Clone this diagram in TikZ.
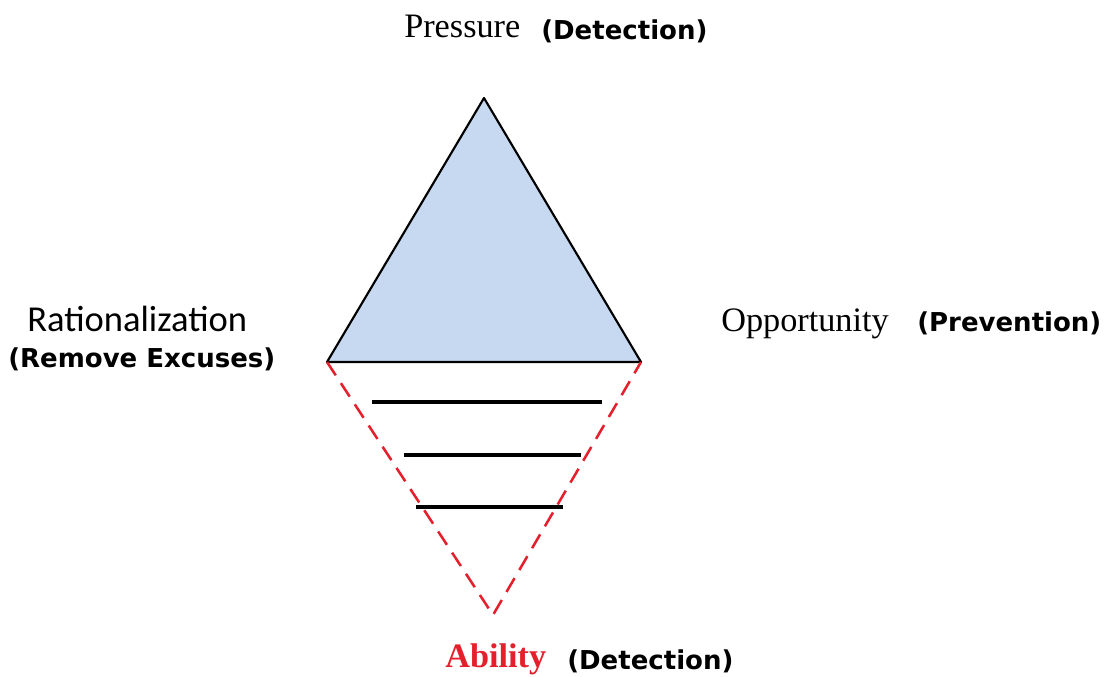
\documentclass[tikz,border=0pt]{standalone}
\usepackage{fontspec}
\setmainfont{Liberation Serif}
\newfontfamily\calib{Carlito}
\newfontfamily\verd{DejaVu Sans}
\definecolor{tri}{HTML}{C6D9F1}
\definecolor{dred}{HTML}{E4202C}
\tikzset{
  serif/.style={anchor=base west, inner sep=0pt, font=\fontsize{25.7}{30}\selectfont},
  cal/.style={anchor=base west, inner sep=0pt, font=\calib\fontsize{27.4}{32}\selectfont},
  par/.style={anchor=base west, inner sep=0pt, font=\verd\bfseries\fontsize{19.5}{23}\selectfont},
  redlbl/.style={anchor=base west, inner sep=0pt, text=dred, font=\bfseries\fontsize{25.7}{30}\selectfont},
  bar/.style={line width=2.4pt},
  reddash/.style={dred, line width=1.9pt, dash pattern=on 12pt off 7pt}
}
\begin{document}
\begin{tikzpicture}[x=0.75pt, y=-0.75pt]
\useasboundingbox (0,0) rectangle (1109,677);
\coordinate (A) at (484,98);
\coordinate (L) at (327,362);
\coordinate (R) at (641,362);
\coordinate (B) at (493,615);
\filldraw[fill=tri, draw=black, line width=1.6pt, line join=round] (A) -- (R) -- (L) -- cycle;
\draw[reddash] (L) -- (B) -- (R);
\coordinate (h1a) at (372,402); \coordinate (h1b) at (602,402);
\coordinate (h2a) at (404,455); \coordinate (h2b) at (581,455);
\coordinate (h3a) at (416,507); \coordinate (h3b) at (563,507);
\draw[bar] (h1a) -- (h1b);
\draw[bar] (h2a) -- (h2b);
\draw[bar] (h3a) -- (h3b);
\node[serif] (pr) at (404,38) {Pressure};
\node[par] (d1) at (541,40) {(Detection)};
\node[cal] (ra) at (27,331) {Rationalization};
\node[par] (re) at (8,367) {(Remove Excuses)};
\node[serif] (op) at (721,331) {Opportunity};
\node[par] (pv) at (917,331) {(Prevention)};
\node[redlbl] (ab) at (445,667) {Ability};
\node[par] (d2) at (567,669) {(Detection)};
\end{tikzpicture}
\end{document}
